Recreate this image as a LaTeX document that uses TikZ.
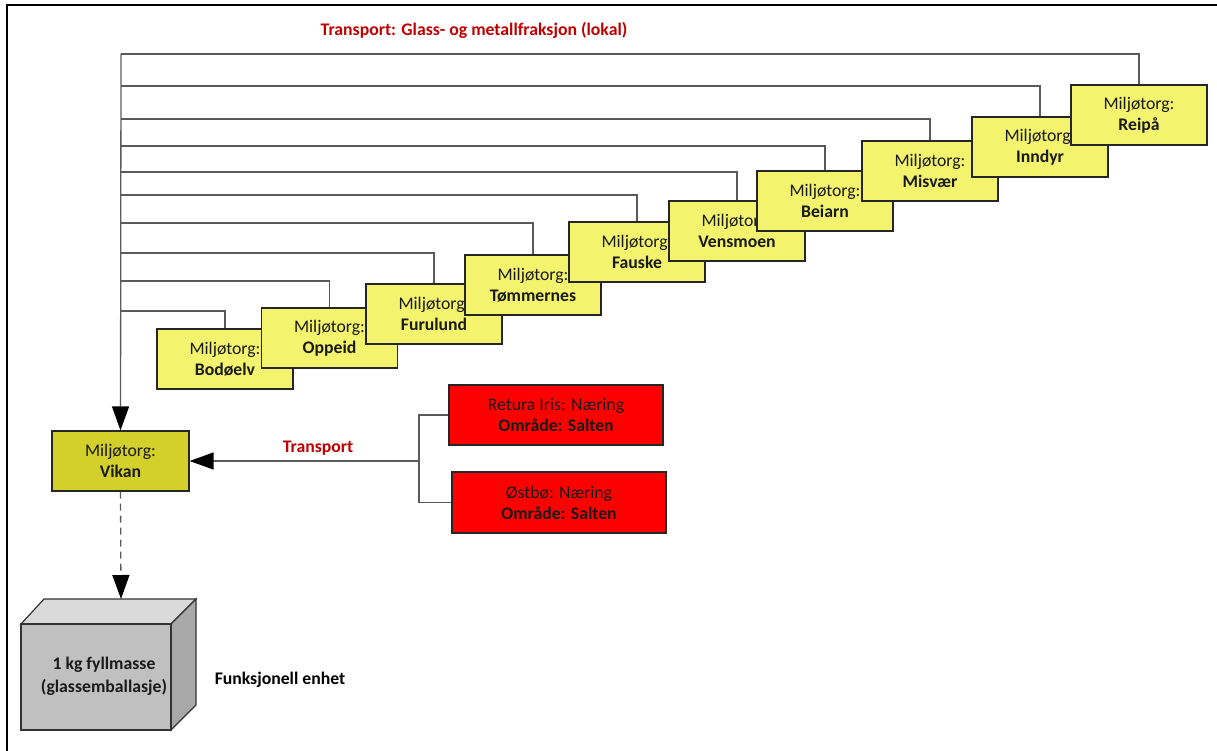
\documentclass[tikz,border=0pt]{standalone}
\usepackage{fontspec}
\setmainfont{Carlito}
\usetikzlibrary{arrows.meta}
\definecolor{siteyellow}{HTML}{F3F36E}
\definecolor{hubyellow}{HTML}{D3D02B}
\definecolor{redbox}{HTML}{FF0000}
\definecolor{labelred}{HTML}{C00000}
\definecolor{linegray}{HTML}{5A5A5A}
\definecolor{textdark}{HTML}{1A1A1A}
\definecolor{cubefront}{HTML}{C0C0C0}
\definecolor{cubetop}{HTML}{DADADA}
\definecolor{cubeside}{HTML}{A8A8A8}
\newcommand{\diagfont}{\fontsize{17.7}{21}\selectfont}
\begin{document}
\begin{tikzpicture}[x=1pt,y=-1pt,
  every node/.style={font=\diagfont, align=center, inner sep=0pt, text=textdark},
  site/.style={draw=black!85, line width=1.2pt, fill=siteyellow, minimum width=136pt, minimum height=60pt},
  hub/.style={site, fill=hubyellow, minimum width=137pt},
  supplier/.style={draw=black!85, line width=1.2pt, fill=redbox, minimum width=214pt, minimum height=60pt},
  conn/.style={draw=linegray, line width=1.3pt},
  bigtip/.style={-{Triangle[length=24pt,width=17pt,color=black]}},
  redlabel/.style={text=labelred, font=\diagfont\bfseries},
  face/.style={draw=black!80, line width=1.2pt}
]
\useasboundingbox (0,0) rectangle (1217,751);

% outer frame (left and top edges)
\draw[line width=2pt, black] (7,752) -- (7,5) -- (1218,5);

% title
\node[redlabel] (title) at (474,30) {Transport: Glass- og metallfraksjon (lokal)};

% collection trunk coordinates
\coordinate (t1) at (121,54);
\coordinate (t2) at (121,86);
\coordinate (t3) at (121,119);
\coordinate (t4) at (121,146);
\coordinate (t5) at (121,172);
\coordinate (t6) at (121,195);
\coordinate (t7) at (121,223);
\coordinate (t8) at (121,253);
\coordinate (t9) at (121,281);
\coordinate (t10) at (121,311);

% receiving station
\node[hub] (vikan) at (120.5,461) {Miljøtorg:\\\textbf{Vikan}};

% site positions (drawn later so each box covers its neighbour on the left)
\coordinate (p-bodoelv) at (225,359);
\coordinate (p-oppeid) at (329.5,338);
\coordinate (p-furulund) at (434,314);
\coordinate (p-tommernes) at (533,285);
\coordinate (p-fauske) at (637,252);
\coordinate (p-vensmoen) at (737,231);
\coordinate (p-beiarn) at (825,201);
\coordinate (p-misvaer) at (930,171);
\coordinate (p-inndyr) at (1040,147);
\coordinate (p-reipa) at (1139,115);

% connectors
\draw[conn] (p-reipa) ++(0,-30) |- (t1);
\draw[conn] (p-inndyr) ++(0,-30) |- (t2);
\draw[conn] (p-misvaer) ++(0,-30) |- (t3);
\draw[conn] (p-beiarn) ++(0,-30) |- (t4);
\draw[conn] (p-vensmoen) ++(0,-30) |- (t5);
\draw[conn] (p-fauske) ++(0,-30) |- (t6);
\draw[conn] (p-tommernes) ++(0,-30) |- (t7);
\draw[conn] (p-furulund) ++(0,-30) |- (t8);
\draw[conn] (p-oppeid) ++(0,-30) |- (t9);
\draw[conn] (p-bodoelv) ++(0,-30) |- (t10);
\draw[conn, bigtip] (t1) -- (vikan.north);

% sites
\node[site] (bodoelv) at (p-bodoelv) {Miljøtorg:\\\textbf{Bodøelv}};
\node[site] (oppeid) at (p-oppeid) {Miljøtorg:\\\textbf{Oppeid}};
\node[site] (furulund) at (p-furulund) {Miljøtorg:\\\textbf{Furulund}};
\node[site] (tommernes) at (p-tommernes) {Miljøtorg:\\\textbf{Tømmernes}};
\node[site] (fauske) at (p-fauske) {Miljøtorg:\\\textbf{Fauske}};
\node[site] (vensmoen) at (p-vensmoen) {Miljøtorg:\\\textbf{Vensmoen}};
\node[site] (beiarn) at (p-beiarn) {Miljøtorg:\\\textbf{Beiarn}};
\node[site] (misvaer) at (p-misvaer) {Miljøtorg:\\\textbf{Misvær}};
\node[site] (inndyr) at (p-inndyr) {Miljøtorg:\\\textbf{Inndyr}};
\node[site] (reipa) at (p-reipa) {Miljøtorg:\\\textbf{Reipå}};

% commercial suppliers
\node[supplier] (retura) at (556,415) {Retura Iris: Næring\\\textbf{Område: Salten}};
\node[supplier, minimum height=61pt] (ostbo) at (559,502.5) {Østbø: Næring\\\textbf{Område: Salten}};
\coordinate (join) at (419,461);
\draw[conn] (retura.west) -| (join) |- (ostbo.west);
\draw[conn, bigtip] (join) -- (vikan.east);
\node[redlabel] (transport) at (318,448) {Transport};

% functional unit cube
\coordinate (cubetopmid) at (121,599);
\filldraw[face, fill=cubetop] (21,624) -- (44,599) -- (196,599) -- (171,624) -- cycle;
\filldraw[face, fill=cubeside] (171,624) -- (196,599) -- (196,705) -- (171,730) -- cycle;
\filldraw[face, fill=cubefront] (21,624) rectangle (171,730);
\node[font=\fontsize{17.7}{23}\selectfont\bfseries] (unit) at (104,676) {1 kg fyllmasse\\(glassemballasje)};
\draw[conn, dash pattern=on 7pt off 5pt, bigtip] (vikan.south) -- (cubetopmid);

\node[font=\diagfont\bfseries, text=black] (fu) at (280,680) {Funksjonell enhet};
\end{tikzpicture}
\end{document}
